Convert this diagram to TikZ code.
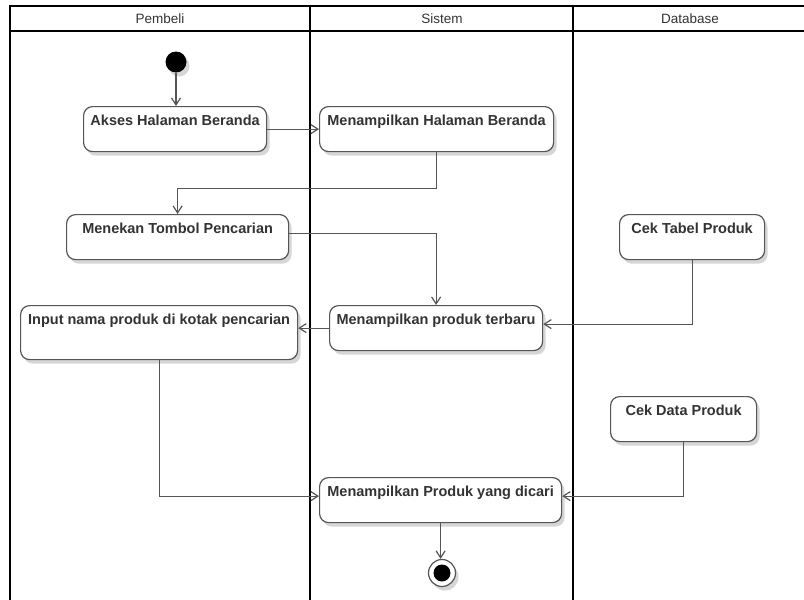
\documentclass[tikz,border=0pt]{standalone}
\usepackage{fontspec}
\setmainfont{Liberation Sans}
\usetikzlibrary{arrows.meta,shadows}
\definecolor{edge}{HTML}{555555}
\definecolor{ink}{HTML}{333333}
\begin{document}
\begin{tikzpicture}[x=1pt,y=-1pt,
  lane/.style={line width=2pt, draw=black},
  softshadow/.style={drop shadow={shadow xshift=3pt, shadow yshift=-4pt, opacity=0.16, fill=black}},
  act/.style={draw=edge, line width=1.2pt, fill=white, rounded corners=9pt,
    anchor=north west, inner xsep=0pt, inner ysep=4pt,
    text height=15pt, text depth=22pt, text=ink,
    font=\bfseries\fontsize{14.5}{17}\selectfont, softshadow},
  flow/.style={draw=edge, line width=1.2pt, -{Straight Barb[length=7pt,width=9pt]}},
  head/.style={font=\fontsize{13.5}{16}\selectfont, text=ink},
]
\useasboundingbox (0,0) rectangle (804,600);

% swimlane frame
\draw[lane] (820,6) -- (10,6) -- (10,610);
\draw[lane] (10,31) -- (820,31);
\draw[lane] (310,6) -- (310,610);
\draw[lane] (573,6) -- (573,610);

% lane headers
\node[head] (hpembeli) at (160,18.5) {Pembeli};
\node[head] (hsistem) at (442,18.5) {Sistem};
\node[head] (hdatabase) at (690,18.5) {Database};

% initial and final states
\node[circle, fill=black, minimum size=21pt, inner sep=0pt, softshadow] (start) at (176,62) {};
\node[circle, draw=edge, line width=1.2pt, fill=white, minimum size=27pt, inner sep=0pt, softshadow] (end) at (442,573) {};
\node[circle, fill=black, minimum size=17pt, inner sep=0pt] (endin) at (end) {};

% actions
\node[act, minimum width=183pt] (akses) at (83,106) {Akses Halaman Beranda};
\node[act, minimum width=234pt] (halaman) at (319,106) {Menampilkan Halaman Beranda};
\node[act, minimum width=222pt] (menekan) at (66,214) {Menekan Tombol Pencarian};
\node[act, minimum width=145pt] (cektabel) at (619,214) {Cek Tabel Produk};
\node[act, minimum width=277pt, text depth=31pt] (input) at (20,305) {Input nama produk di kotak pencarian};
\node[act, minimum width=213pt] (terbaru) at (329,305) {Menampilkan produk terbaru};
\node[act, minimum width=146pt] (cekdata) at (610,396) {Cek Data Produk};
\node[act, minimum width=242pt] (dicari) at (319,477) {Menampilkan Produk yang dicari};

% control flow
\draw[flow] (start) -- (start |- akses.north);
\draw[flow] (akses) -- (halaman);
\draw[flow] (halaman.south) -- ++(0,36) -| (menekan.north);
\draw[flow] ([yshift=4pt]menekan.east) -| (terbaru.north);
\draw[flow] (cektabel.south) |- ([yshift=4pt]terbaru.east);
\draw[flow] (terbaru.west) -- (terbaru.west -| input.east);
\draw[flow] (input.south) |- ([yshift=4pt]dicari.west);
\draw[flow] (cekdata.south) |- ([yshift=4pt]dicari.east);
\draw[flow] (dicari.south) -- (dicari.south |- end.north);
\end{tikzpicture}
\end{document}
